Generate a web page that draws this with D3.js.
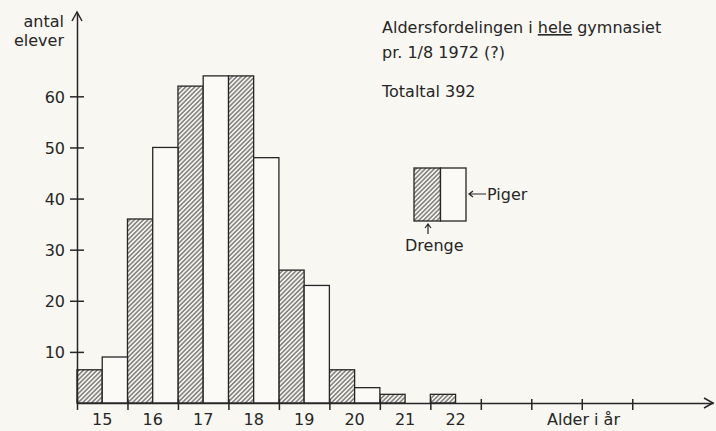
<!DOCTYPE html>
<html><head><meta charset="utf-8">
<script src="https://cdn.jsdelivr.net/npm/d3@7"></script>
<style>
html,body{margin:0;padding:0;background:#f8f7f2;}
svg{display:block;font-family:"DejaVu Sans",sans-serif;}
</style></head>
<body>
<svg id="c" width="716" height="431"></svg>
<script>
const ages = [15, 16, 17, 18, 19, 20, 21, 22];
const drenge = [6.5, 36, 62, 64, 26, 6.5, 1.7, 1.7];
const piger = [9, 50, 64, 48, 23, 3, 0, 0];
const yTicks = [10, 20, 30, 40, 50, 60];
const xBoundaryTicks = [15, 16, 17, 18, 19, 20, 21, 22, 23, 24, 25, 26];
const xLabels = ["15", "16", "17", "18", "19", "20", "21", "22"];
const titleLines = ["Aldersfordelingen i ", "hele", " gymnasiet"];

const ink = "#262626";
const svg = d3.select("#c");
const x = d3.scaleLinear().domain([15, 27.6]).range([77, 713]);
const y = d3.scaleLinear().domain([0, 76.5]).range([403, 12]);

const defs = svg.append("defs");
const pat = defs.append("pattern").attr("id", "hatch")
  .attr("patternUnits", "userSpaceOnUse").attr("width", 3.2).attr("height", 3.2)
  .attr("patternTransform", "rotate(45)");
pat.append("rect").attr("width", 3.2).attr("height", 3.2).attr("fill", "#f3f2ec");
pat.append("line").attr("x1", 0.8).attr("y1", 0).attr("x2", 0.8).attr("y2", 3.2)
  .attr("stroke", "#555").attr("stroke-width", 1.1);

// bars
const data = ages.map((a, i) => ({a, d: drenge[i], p: piger[i]}));
const g = svg.append("g");
g.selectAll("rect.d").data(data).join("rect").attr("class", "d")
  .attr("x", d => x(d.a)).attr("width", d => x(d.a + 0.5) - x(d.a))
  .attr("y", d => y(d.d)).attr("height", d => y(0) - y(d.d))
  .attr("fill", "url(#hatch)").attr("stroke", ink).attr("stroke-width", 1.3);
g.selectAll("rect.p").data(data.filter(d => d.p > 0)).join("rect").attr("class", "p")
  .attr("x", d => x(d.a + 0.5)).attr("width", d => x(d.a + 1) - x(d.a + 0.5))
  .attr("y", d => y(d.p)).attr("height", d => y(0) - y(d.p))
  .attr("fill", "#fbfaf6").attr("stroke", ink).attr("stroke-width", 1.3);

// y axis
const yAxis = svg.append("g").attr("transform", `translate(${x(15)},0)`)
  .call(d3.axisLeft(y).tickValues(yTicks).tickSize(6).tickSizeOuter(0).tickPadding(6));
yAxis.select(".domain").attr("stroke", ink).attr("stroke-width", 1.5);
yAxis.selectAll(".tick line").attr("x1", 7).attr("x2", -7).attr("stroke", ink).attr("stroke-width", 1.5);
yAxis.selectAll(".tick text").attr("x", -12).attr("dy", "0.36em")
  .attr("font-size", 16).attr("fill", ink).attr("font-family", "DejaVu Sans");
svg.append("path").attr("d", `M${x(15)-5},${y(76.5)+9} L${x(15)},${y(76.5)} L${x(15)+5},${y(76.5)+9}`)
  .attr("fill", "none").attr("stroke", ink).attr("stroke-width", 1.5);

// x axis
const xAxis = svg.append("g").attr("transform", `translate(0,${y(0)})`)
  .call(d3.axisBottom(x).tickValues(xBoundaryTicks).tickFormat("").tickSize(7).tickSizeOuter(0));
xAxis.select(".domain").attr("stroke", ink).attr("stroke-width", 1.5);
xAxis.selectAll(".tick line").attr("y1", -4).attr("y2", 7).attr("stroke", ink).attr("stroke-width", 1.5);
svg.append("path").attr("d", `M${x(27.6)-9},${y(0)-5} L${x(27.6)},${y(0)} L${x(27.6)-9},${y(0)+5}`)
  .attr("fill", "none").attr("stroke", ink).attr("stroke-width", 1.5);

svg.append("g").selectAll("text").data(xLabels).join("text")
  .attr("x", (d, i) => x(ages[i] + 0.5)).attr("y", 425).attr("text-anchor", "middle")
  .attr("font-size", 16).attr("fill", ink).text(d => d);
svg.append("text").attr("x", 547).attr("y", 425).attr("font-size", 16).attr("fill", ink).text("Alder i år");

// y label
svg.append("text").attr("x", 64).attr("y", 27).attr("text-anchor", "end").attr("font-size", 16).attr("fill", ink).text("antal");
svg.append("text").attr("x", 64).attr("y", 46).attr("text-anchor", "end").attr("font-size", 16).attr("fill", ink).text("elever");

// title
const t1 = svg.append("text").attr("x", 382).attr("y", 33).attr("font-size", 16).attr("fill", ink);
t1.append("tspan").text(titleLines[0]);
t1.append("tspan").attr("text-decoration", "underline").text(titleLines[1]);
t1.append("tspan").text(titleLines[2]);
svg.append("text").attr("x", 382).attr("y", 58).attr("font-size", 16).attr("fill", ink).text("pr. 1/8 1972 (?)");
svg.append("text").attr("x", 382).attr("y", 97).attr("font-size", 16).attr("fill", ink).text("Totaltal 392");

// legend
const lg = svg.append("g");
lg.append("rect").attr("x", 414).attr("y", 168).attr("width", 26.5).attr("height", 53)
  .attr("fill", "url(#hatch)").attr("stroke", ink).attr("stroke-width", 1.3);
lg.append("rect").attr("x", 440.5).attr("y", 168).attr("width", 25.5).attr("height", 53)
  .attr("fill", "#fbfaf6").attr("stroke", ink).attr("stroke-width", 1.3);
lg.append("path").attr("d", "M486,194 L469,194 M473,191 L469,194 L473,197")
  .attr("fill", "none").attr("stroke", ink).attr("stroke-width", 1.2);
lg.append("text").attr("x", 487).attr("y", 200).attr("font-size", 16).attr("fill", ink).text("Piger");
lg.append("path").attr("d", "M428,234 L428,224 M425,228 L428,224 L431,228")
  .attr("fill", "none").attr("stroke", ink).attr("stroke-width", 1.2);
lg.append("text").attr("x", 405).attr("y", 251).attr("font-size", 16).attr("fill", ink).text("Drenge");
</script>
</body></html>
